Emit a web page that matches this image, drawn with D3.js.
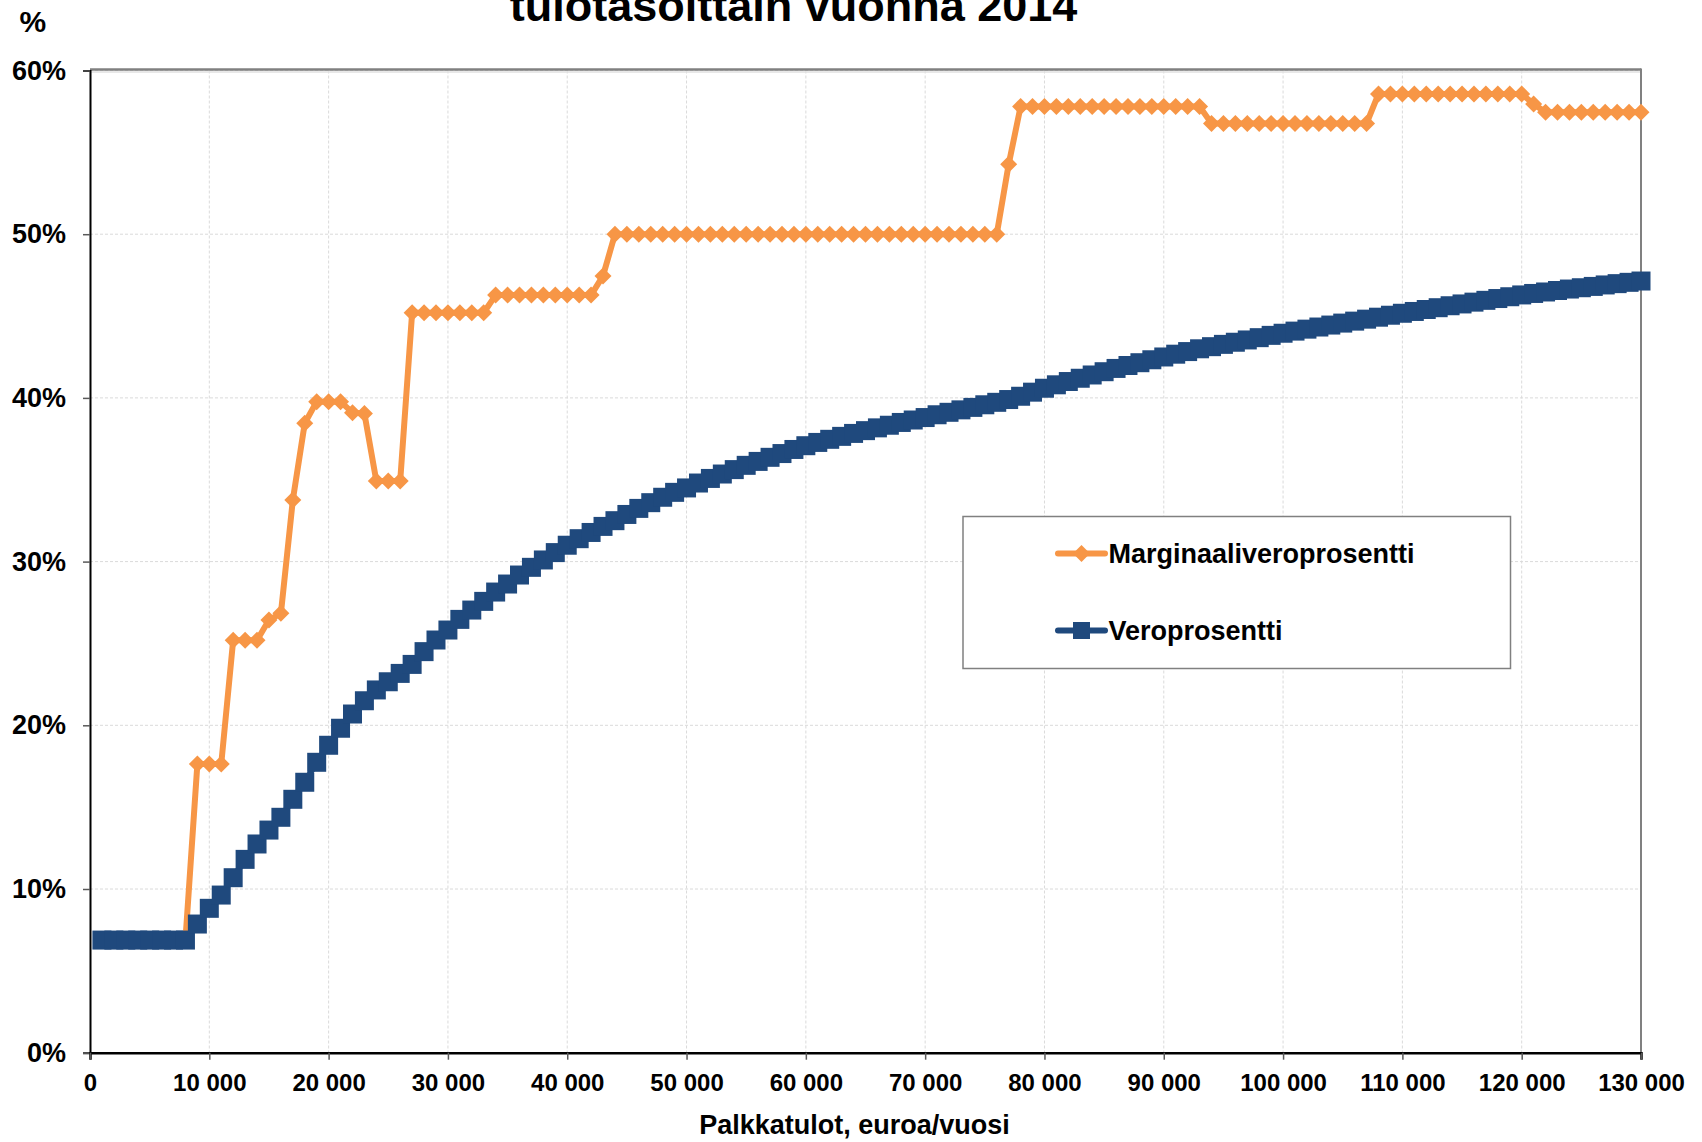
<!DOCTYPE html>
<html>
<head>
<meta charset="utf-8">
<script src="https://cdn.jsdelivr.net/npm/d3@7"></script>
<style>
  body { margin: 0; background: #fff; }
  text { font-family: 'Liberation Sans', Arial, sans-serif; font-weight: bold; fill: #000; }
</style>
</head>
<body>
<div id="chart"></div>
<script>
// palkkatulot, euroa/vuosi (categories)
const incomes = d3.range(1000, 131000, 1000);

const marginalRate = [
  6.88, 6.88, 6.88, 6.88, 6.88, 6.88, 6.88, 6.88, 17.64, 17.64,
  17.64, 25.2, 25.2, 25.2, 26.43, 26.84, 33.76, 38.45, 39.77, 39.77,
  39.77, 39.1, 39.05, 34.92, 34.92, 34.92, 45.2, 45.2, 45.2, 45.2,
  45.2, 45.2, 45.2, 46.28, 46.28, 46.28, 46.28, 46.28, 46.28, 46.28,
  46.28, 46.28, 47.45, 50, 50, 50, 50, 50, 50, 50,
  50, 50, 50, 50, 50, 50, 50, 50, 50, 50,
  50, 50, 50, 50, 50, 50, 50, 50, 50, 50,
  50, 50, 50, 50, 50, 50, 54.27, 57.8, 57.8, 57.8,
  57.8, 57.8, 57.8, 57.8, 57.8, 57.8, 57.8, 57.8, 57.8, 57.8,
  57.8, 57.8, 57.8, 56.77, 56.77, 56.77, 56.77, 56.77, 56.77, 56.77,
  56.77, 56.77, 56.77, 56.77, 56.77, 56.77, 56.77, 58.57, 58.57, 58.57,
  58.57, 58.57, 58.57, 58.57, 58.57, 58.57, 58.57, 58.57, 58.57, 58.57,
  57.95, 57.45, 57.45, 57.45, 57.45, 57.45, 57.45, 57.45, 57.45, 57.45
];

const taxRate = [
  6.88, 6.88, 6.88, 6.88, 6.88, 6.88, 6.88, 6.88, 7.86, 8.82,
  9.63, 10.69, 11.81, 12.75, 13.6, 14.38, 15.48, 16.52, 17.74, 18.78,
  19.82, 20.69, 21.5, 22.16, 22.66, 23.17, 23.72, 24.5, 25.21, 25.82,
  26.47, 27.04, 27.57, 28.14, 28.63, 29.18, 29.65, 30.1, 30.55, 31.0,
  31.4, 31.78, 32.15, 32.5, 32.88, 33.25, 33.6, 33.93, 34.23, 34.5,
  34.8, 35.08, 35.35, 35.62, 35.88, 36.12, 36.37, 36.6, 36.85, 37.08,
  37.28, 37.47, 37.65, 37.83, 38.0, 38.17, 38.33, 38.5, 38.65, 38.8,
  38.97, 39.12, 39.27, 39.42, 39.58, 39.73, 39.9, 40.1, 40.35, 40.59,
  40.8, 41.0, 41.2, 41.4, 41.6, 41.8, 41.98, 42.15, 42.33, 42.5,
  42.67, 42.83, 43.0, 43.13, 43.27, 43.4, 43.54, 43.68, 43.82, 43.95,
  44.08, 44.2, 44.33, 44.45, 44.57, 44.69, 44.81, 44.93, 45.05, 45.17,
  45.28, 45.4, 45.51, 45.63, 45.74, 45.85, 45.96, 46.07, 46.18, 46.29,
  46.38, 46.47, 46.56, 46.65, 46.73, 46.81, 46.9, 46.98, 47.06, 47.14
];

const seriesNames = ['Marginaaliveroprosentti', 'Veroprosentti'];
const seriesColors = ['#F79646', '#1F497D'];
const yTicks = [0, 10, 20, 30, 40, 50, 60];
const xTicks = [0, 10000, 20000, 30000, 40000, 50000, 60000, 70000, 80000, 90000, 100000, 110000, 120000, 130000];

const titleText = 'tulotasoittain vuonna 2014';
const xTitle = 'Palkkatulot, euroa/vuosi';

// finnish number format: space as thousands separator
const fi = d3.formatLocale({decimal: ',', thousands: ' ', grouping: [3], currency: ['', ' €']});

const width = 1702;
const height = 1142;
const plot = {left: 90, right: 1641, top: 70.5, bottom: 1052.7};

const svg = d3.select('#chart')
  .append('svg')
  .attr('width', width)
  .attr('height', height);

const x = d3.scaleLinear()
  .domain([0, 130000])
  .range([plot.left, plot.right]);

const y = d3.scaleLinear()
  .domain([0, 60])
  .range([plot.bottom, plot.top]);

// gridlines
svg.append('g')
  .selectAll('line')
  .data(xTicks.slice(1))
  .join('line')
  .attr('x1', d => x(d)).attr('x2', d => x(d))
  .attr('y1', plot.top).attr('y2', plot.bottom)
  .attr('stroke', '#dadada')
  .attr('stroke-width', 1)
  .attr('stroke-dasharray', '3,2');

svg.append('g')
  .selectAll('line')
  .data(yTicks.slice(1))
  .join('line')
  .attr('x1', plot.left).attr('x2', plot.right)
  .attr('y1', d => y(d)).attr('y2', d => y(d))
  .attr('stroke', '#dadada')
  .attr('stroke-width', 1)
  .attr('stroke-dasharray', '3,2');

// plot frame (top and right)
svg.append('line')
  .attr('x1', plot.left).attr('x2', plot.right)
  .attr('y1', plot.top - 1).attr('y2', plot.top - 1)
  .attr('stroke', '#808080').attr('stroke-width', 2.5);
svg.append('line')
  .attr('x1', plot.left).attr('x2', plot.right)
  .attr('y1', plot.top + 1.5).attr('y2', plot.top + 1.5)
  .attr('stroke', '#e0e0e0').attr('stroke-width', 1.5);
svg.append('line')
  .attr('x1', plot.right).attr('x2', plot.right)
  .attr('y1', plot.top - 2).attr('y2', plot.bottom)
  .attr('stroke', '#808080').attr('stroke-width', 2);

// axes
const yAxis = svg.append('g')
  .attr('transform', `translate(${plot.left},0)`)
  .call(d3.axisLeft(y).tickValues(yTicks).tickSize(7).tickPadding(17).tickFormat(d => d + '%'));

const xAxis = svg.append('g')
  .attr('transform', `translate(0,${plot.bottom})`)
  .call(d3.axisBottom(x).tickValues(xTicks).tickSize(7).tickPadding(14).tickFormat(fi.format(',d')));

yAxis.select('.domain').attr('stroke', '#000').attr('stroke-width', 2);
xAxis.select('.domain').attr('stroke', '#000').attr('stroke-width', 2.5);
svg.selectAll('.tick line').attr('stroke', '#595959').attr('stroke-width', 1.5);
yAxis.selectAll('text').attr('font-size', 27).attr('font-family', null);
xAxis.selectAll('text').attr('font-size', 24).attr('font-family', null);
svg.selectAll('.tick text').attr('fill', '#000');

// series
const series = [marginalRate, taxRate];
const line = d3.line()
  .x((d, i) => x(incomes[i]))
  .y(d => y(d));

const diamond = h => `M0,${-h}L${h},0L0,${h}L${-h},0Z`;
const square = s => `M${-s / 2},${-s / 2}h${s}v${s}h${-s}Z`;
const markers = [diamond(8.5), square(19)];

series.forEach((values, k) => {
  const g = svg.append('g');
  g.append('path')
    .datum(values)
    .attr('fill', 'none')
    .attr('stroke', seriesColors[k])
    .attr('stroke-width', 6)
    .attr('stroke-linejoin', 'round')
    .attr('d', line);
  g.selectAll('path.marker')
    .data(values)
    .join('path')
    .attr('class', 'marker')
    .attr('transform', (d, i) => `translate(${x(incomes[i])},${y(d)})`)
    .attr('d', markers[k])
    .attr('fill', seriesColors[k]);
});

// legend
const legend = svg.append('g');
legend.append('rect')
  .attr('x', 963).attr('y', 516.5)
  .attr('width', 547.5).attr('height', 152)
  .attr('fill', '#fff')
  .attr('stroke', '#808080')
  .attr('stroke-width', 1.5);

seriesNames.forEach((name, k) => {
  const ly = 553.5 + k * 77;
  legend.append('line')
    .attr('x1', 1058).attr('x2', 1105)
    .attr('y1', ly).attr('y2', ly)
    .attr('stroke', seriesColors[k])
    .attr('stroke-width', 6)
    .attr('stroke-linecap', 'round');
  legend.append('path')
    .attr('transform', `translate(1081.5,${ly})`)
    .attr('d', k === 0 ? diamond(8.5) : square(17))
    .attr('fill', seriesColors[k]);
  legend.append('text')
    .attr('x', 1108.5)
    .attr('y', ly + 9.5)
    .attr('font-size', 27)
    .text(name);
});

// titles (the first title line lies above the picture, as in the source)
svg.append('text')
  .attr('x', 793.5).attr('y', 21)
  .attr('text-anchor', 'middle')
  .attr('font-size', 45)
  .text(titleText);

svg.append('text')
  .attr('x', 19.5).attr('y', 32)
  .attr('font-size', 30)
  .text('%');

svg.append('text')
  .attr('x', 854.5).attr('y', 1134)
  .attr('text-anchor', 'middle')
  .attr('font-size', 27)
  .text(xTitle);
</script>
</body>
</html>
